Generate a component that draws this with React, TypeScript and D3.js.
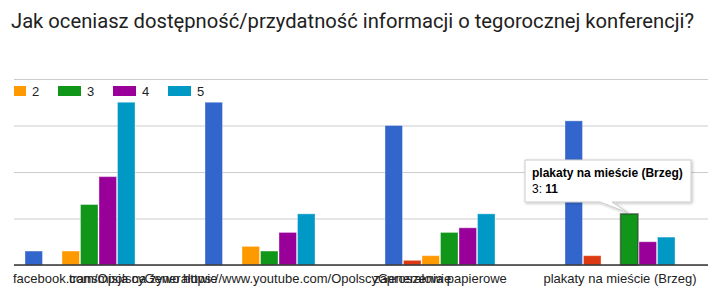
import React from "react";
import * as d3 from "d3";

const title = "Jak oceniasz dostępność/przydatność informacji o tegorocznej konferencji?";
const categories = [
  "facebook.com/OpolscyGenerałowie",
  "transmisja na żywo https://www.youtube.com/OpolscyGenerałowie",
  "zaproszenia papierowe",
  "plakaty na mieście (Brzeg)",
];
const seriesNames = ["0", "1", "2", "3", "4", "5"];
const seriesColors = ["#3366cc", "#dc3912", "#ff9900", "#109618", "#990099", "#0099c6"];
const s0 = [3, 35, 30, 31];
const s1 = [0, 0, 1, 2];
const s2 = [3, 4, 2, 0];
const s3 = [13, 3, 7, 11];
const s4 = [19, 7, 8, 5];
const s5 = [35, 11, 11, 6];
const seriesValues = [s0, s1, s2, s3, s4, s5];
const yTicks = [0, 10, 20, 30, 40];
const legendShown = ["2", "3", "4", "5"];
const tooltipCat = 3;
const tooltipSeries = 3;

export default function App() {
  const W = 719, H = 294;
  const x = d3.scaleBand<string>().domain(categories).range([-18, 702]).paddingInner(0.3833).paddingOuter(0.19165);
  const xi = d3.scaleBand<string>().domain(seriesNames).range([0, x.bandwidth()]);
  const y = d3.scaleLinear().domain([0, 40]).range([265, 79]);
  const gridX0 = 6, gridX1 = 700;
  const legendX = [6, 50, 105, 160];
  const legendW = [12, 23, 23, 23];
  const tipX = (x(categories[tooltipCat]) as number) + (xi(seriesNames[tooltipSeries]) as number) + xi.bandwidth() / 2;
  const tipY = y(seriesValues[tooltipSeries][tooltipCat]);
  return (
    <svg width={W} height={H} style={{ display: "block", margin: "-8px", background: "#fff" }}>
      <defs>
        <filter id="sh" x="-10%" y="-10%" width="130%" height="140%">
          <feDropShadow dx="1" dy="1" stdDeviation="1.5" floodColor="#000" floodOpacity="0.25" />
        </filter>
      </defs>
      <g transform="translate(8,0)">
        <text x={3} y={28} fontFamily="Roboto" fontSize={20.2} fill="#212121">{title}</text>
        {yTicks.map((t) => (
          <line key={t} x1={gridX0} x2={gridX1} y1={y(t) + 0.5} y2={y(t) + 0.5} stroke="#cccccc" strokeWidth={1} />
        ))}
        {legendShown.map((n, i) => {
          const si = seriesNames.indexOf(n);
          return (
            <g key={n}>
              <rect x={legendX[i]} y={86} width={legendW[i]} height={10} fill={seriesColors[si]} />
              <text x={legendX[i] + legendW[i] + 6} y={95.5} fontFamily="Liberation Sans, Arial" fontSize={13} fill="#222">{n}</text>
            </g>
          );
        })}
        {categories.map((c, ci) => (
          <g key={c} transform={`translate(${x(c)},0)`}>
            {seriesNames.map((s, si) => {
              const v = seriesValues[si][ci];
              if (!v) return null;
              const hl = ci === tooltipCat && si === tooltipSeries;
              return (
                <rect key={s} x={(xi(s) as number) + 0.5} y={y(v)} width={xi.bandwidth() - 1} height={y(0) - y(v)}
                  fill={seriesColors[si]} stroke={hl ? "#333" : "#fff"} strokeOpacity={hl ? 0.6 : 0.35} strokeWidth={hl ? 1.5 : 1} />
              );
            })}
          </g>
        ))}
        <line x1={gridX0} x2={gridX1} y1={265} y2={265} stroke="#333" strokeWidth={1.5} />
        {categories.map((c, ci) => {
          const cx = (x(c) as number) + x.bandwidth() / 2;
          return (
            <text key={c} x={ci === 0 ? 5 : cx} y={283} textAnchor={ci === 0 ? "start" : "middle"}
              fontFamily="Liberation Sans, Arial" fontSize={13} fill="#222">{c}</text>
          );
        })}
        <g>
          <path d={`M517,160 H683 V202 H604 L${tipX - 1},${tipY - 1} L592,202 H517 Z`} fill="#fff" stroke="#ccc" strokeWidth={1} filter="url(#sh)" />
          <text x={524} y={177} fontFamily="Liberation Sans, Arial" fontSize={12} fontWeight="bold" fill="#000">{categories[tooltipCat]}</text>
          <text x={524} y={193} fontFamily="Liberation Sans, Arial" fontSize={12} fill="#000">
            {seriesNames[tooltipSeries]}: <tspan fontWeight="bold">{seriesValues[tooltipSeries][tooltipCat]}</tspan>
          </text>
        </g>
      </g>
    </svg>
  );
}
